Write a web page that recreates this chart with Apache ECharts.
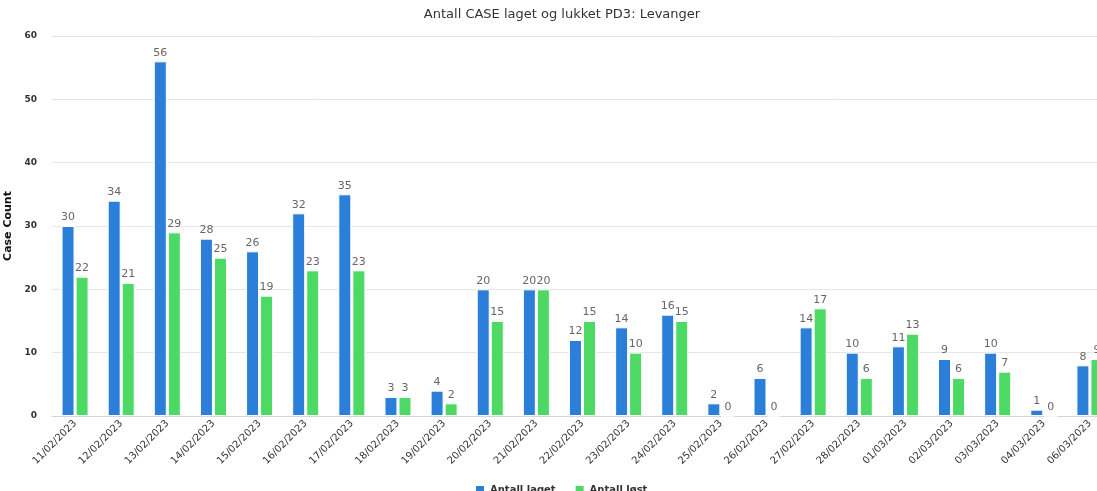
<!DOCTYPE html>
<html>
<head>
<meta charset="utf-8">
<script src="https://cdn.jsdelivr.net/npm/echarts@6/dist/echarts.min.js"></script>
<style>
  html, body { margin: 0; padding: 0; background: #fff; }
  #main { width: 1097px; height: 491px; }
</style>
</head>
<body>
<div id="main"></div>
<script>
// data
var dates = ['11/02/2023', '12/02/2023', '13/02/2023', '14/02/2023', '15/02/2023', '16/02/2023',
  '17/02/2023', '18/02/2023', '19/02/2023', '20/02/2023', '21/02/2023', '22/02/2023',
  '23/02/2023', '24/02/2023', '25/02/2023', '26/02/2023', '27/02/2023', '28/02/2023',
  '01/03/2023', '02/03/2023', '03/03/2023', '04/03/2023', '06/03/2023'];
var laget = [30, 34, 56, 28, 26, 32, 35, 3, 4, 20, 20, 12, 14, 16, 2, 6, 14, 10, 11, 9, 10, 1, 8];
var lost = [22, 21, 29, 25, 19, 23, 23, 3, 2, 15, 20, 15, 10, 15, 0, 0, 17, 6, 13, 6, 7, 0, 9];
var yTicks = [0, 10, 20, 30, 40, 50, 60];

var fontName = 'DejaVu Sans';

var myChart = echarts.init(document.getElementById('main'));

// label style shared by both series
var lbl = {
  show: true,
  position: 'top',
  distance: 3,
  color: '#666',
  fontSize: 11,
  fontFamily: fontName
};

var option = {
  animation: false,
  textStyle: { fontFamily: fontName },
  title: {
    text: 'Antall CASE laget og lukket PD3: Levanger',
    left: 557,
    textAlign: 'center',
    top: 3,
    textStyle: { fontSize: 13, fontWeight: 'normal', color: '#333', fontFamily: fontName }
  },
  legend: {
    left: 469,
    top: 479,
    itemWidth: 10,
    itemHeight: 10,
    itemGap: 18,
    icon: 'rect',
    textStyle: { fontSize: 10, fontWeight: 'bold', color: '#333', fontFamily: fontName },
    data: ['Antall laget', 'Antall løst']
  },
  // plot area runs past the right edge of the window (last bar is clipped)
  grid: {
    left: 52,
    top: 36,
    right: -16,
    bottom: 75,
    outerBoundsMode: 'none',
    containLabel: false
  },
  xAxis: {
    type: 'category',
    data: dates,
    axisTick: { show: false },
    axisLine: { lineStyle: { color: '#ccd6eb' } },
    axisLabel: {
      rotate: 45,
      interval: 0,
      margin: 6,
      fontSize: 10,
      color: '#333',
      fontFamily: fontName
    }
  },
  yAxis: {
    type: 'value',
    min: yTicks[0],
    max: yTicks[yTicks.length - 1],
    interval: 10,
    name: 'Case Count',
    nameLocation: 'middle',
    nameGap: 31,
    nameTextStyle: { fontSize: 11, fontWeight: 'bold', color: '#111', fontFamily: fontName },
    axisLabel: { fontSize: 9, fontWeight: 'bold', color: '#333', margin: 15, fontFamily: fontName },
    splitLine: { lineStyle: { color: '#e6e6e6' } }
  },
  series: [
    {
      name: 'Antall laget',
      type: 'bar',
      data: laget,
      barWidth: 13,
      barGap: '8%',
      itemStyle: { color: '#2b7fd9', borderColor: '#fff', borderWidth: 1 },
      label: lbl
    },
    {
      name: 'Antall løst',
      type: 'bar',
      data: lost,
      barWidth: 13,
      itemStyle: { color: '#4cd964', borderColor: '#fff', borderWidth: 1 },
      label: lbl
    }
  ]
};

myChart.setOption(option);
</script>
</body>
</html>
